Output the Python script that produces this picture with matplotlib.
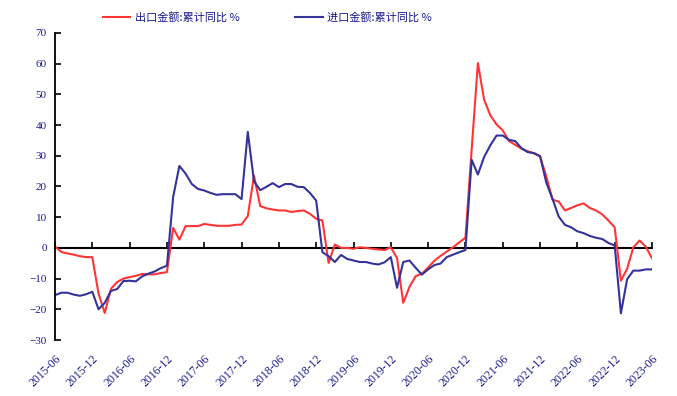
import matplotlib
matplotlib.use("Agg")
import matplotlib.pyplot as plt
import pandas as pd
import numpy as np

plt.rcParams['font.family'] = ['Noto Sans CJK SC', 'DejaVu Sans']

months = pd.period_range('2015-06', '2023-06', freq='M').strftime('%Y-%m').tolist()

export_yoy = [0.5, -1.3, -1.8, -2.2, -2.7, -3.0, -3.0, -14.9, -21.2, -13.3,
              -11.1, -10.0, -9.5, -9.1, -8.5, -8.6, -8.6, -8.2, -7.9, 6.5,
              2.7, 7.1, 7.1, 7.1, 7.8, 7.5, 7.2, 7.2, 7.2, 7.5,
              7.6, 10.4, 23.5, 13.6, 12.9, 12.5, 12.2, 12.2, 11.7, 12.0,
              12.2, 11.1, 9.5, 8.9, -4.9, 1.1, 0.0, 0.0, -0.3, 0.2,
              0.0, -0.3, -0.5, -0.7, 0.2, -3.3, -17.9, -12.7, -9.2, -8.4,
              -6.4, -4.2, -2.6, -1.2, 0.2, 1.8, 3.3, 32.0, 60.2, 48.3,
              43.2, 40.2, 38.3, 34.8, 33.6, 32.3, 31.5, 30.8, 29.8, 23.3,
              15.7, 15.1, 12.2, 13.0, 13.9, 14.5, 13.0, 12.2, 10.9, 8.9,
              6.7, -10.7, -6.8, 0.2, 2.4, 0.4, -3.4]

import_yoy = [-15.4, -14.6, -14.6, -15.2, -15.6, -15.1, -14.3, -20.0, -17.9, -14.0,
              -13.4, -10.8, -10.7, -10.9, -9.3, -8.4, -7.7, -6.6, -5.8, 16.6,
              26.7, 24.2, 20.8, 19.2, 18.7, 17.9, 17.3, 17.5, 17.5, 17.5,
              15.9, 37.8, 21.7, 18.8, 19.9, 21.1, 19.8, 20.8, 20.8, 19.9,
              19.8, 17.9, 15.4, -1.4, -2.7, -4.6, -2.3, -3.6, -4.1, -4.6,
              -4.6, -5.1, -5.4, -4.7, -3.0, -13.0, -4.6, -4.1, -6.5, -8.7,
              -7.0, -5.6, -5.1, -3.0, -2.2, -1.4, -0.7, 28.7, 23.9, 29.6,
              33.4, 36.6, 36.6, 35.2, 34.8, 32.5, 31.2, 30.9, 29.9, 21.3,
              16.0, 10.2, 7.5, 6.7, 5.4, 4.8, 3.9, 3.3, 2.9, 1.6,
              0.8, -21.3, -10.2, -7.4, -7.4, -7.0, -7.0]

labels = ['出口金额:累计同比 %', '进口金额:累计同比 %']
colors = ['#FF3535', '#33339A']
text_color = '#1A1A8C'
tick_font = ['Liberation Serif', 'DejaVu Serif']

x = np.arange(len(months))

fig = plt.figure(figsize=(6.77, 3.96), dpi=100)
ax = fig.add_axes([55/677, 1-340/396, (652-55)/677, (340-33)/396])

l1, = ax.plot(x, export_yoy, color=colors[0], lw=1.5, label=labels[0])
l2, = ax.plot(x, import_yoy, color=colors[1], lw=1.5, label=labels[1])

ymin, ymax = -30, 70
ax.set_ylim(ymin, ymax)
ax.set_xlim(0, len(months) - 1)
ax.set_yticks(np.arange(-30, 71, 10))
for t in ax.get_yticklabels():
    t.set_family(tick_font)
    t.set_fontsize(8)
    t.set_color(text_color)

for s in ['top', 'right', 'bottom']:
    ax.spines[s].set_visible(False)
ax.spines['left'].set_linewidth(1.3)
ax.tick_params(axis='y', direction='in', length=4, width=1.2, pad=6)

tick_pos = x[::6]
ax.set_xticks(tick_pos)
ax.set_xticklabels([months[i] for i in tick_pos], rotation=45, ha='right',
                   rotation_mode='anchor', fontsize=8.5, color=text_color,
                   family=tick_font)
ax.tick_params(axis='x', length=0, pad=9)

# zero line axis with upward ticks
zero_frac = (0 - ymin) / (ymax - ymin)
sec = ax.secondary_xaxis(zero_frac)
sec.set_xticks(tick_pos)
sec.tick_params(axis='x', direction='in', length=4, width=1.2, labelbottom=False,
                labeltop=False)
sec.spines['bottom'].set_linewidth(1.5)
sec.spines['top'].set_linewidth(1.5)

leg = fig.legend(handles=[l1, l2], loc='center', bbox_to_anchor=(0.395, 0.955),
                 ncol=2, frameon=False, fontsize=8, handlelength=2.5,
                 columnspacing=5, handletextpad=0.4)
for t in leg.get_texts():
    t.set_color(text_color)

fig.savefig('out.png', dpi=100)
